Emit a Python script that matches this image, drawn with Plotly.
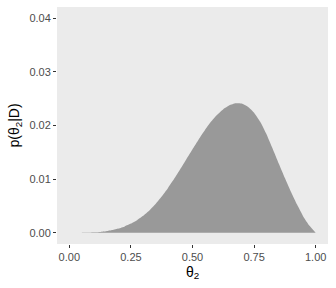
import plotly.graph_objects as go

theta = [0.000, 0.025, 0.050, 0.075, 0.100, 0.125, 0.150, 0.175, 0.200, 0.225,
         0.250, 0.275, 0.300, 0.325, 0.350, 0.375, 0.400, 0.425, 0.450, 0.475,
         0.500, 0.525, 0.550, 0.575, 0.600, 0.625, 0.650, 0.675, 0.700, 0.725,
         0.750, 0.775, 0.800, 0.825, 0.850, 0.875, 0.900, 0.925, 0.950, 0.975, 1.000]
posterior = [0.0, 0.0, 0.00001, 0.00003, 0.00008, 0.00016, 0.00029, 0.00049, 0.00078, 0.00118,
             0.00170, 0.00235, 0.00315, 0.00415, 0.00535, 0.00675, 0.00830, 0.01000, 0.01182, 0.01370,
             0.01558, 0.01741, 0.01913, 0.02068, 0.02200, 0.02305, 0.02378, 0.02416, 0.02410, 0.02350,
             0.02240, 0.02070, 0.01840, 0.01570, 0.01290, 0.01020, 0.00760, 0.00520, 0.00300, 0.00130, 0.0]

x_ticks = [0.0, 0.25, 0.5, 0.75, 1.0]
y_ticks = [0.0, 0.01, 0.02, 0.03, 0.04]

fig = go.Figure()
fig.add_trace(go.Scatter(
    x=theta, y=posterior, mode="lines", fill="tozeroy",
    line=dict(width=0, shape="spline", smoothing=0.4),
    fillcolor="#999999", hoverinfo="skip", showlegend=False,
))

axis_common = dict(
    showgrid=False, zeroline=False, showline=False,
    ticks="outside", ticklen=3, tickwidth=1, tickcolor="#333333",
    tickfont=dict(family="Liberation Sans, Arial, sans-serif", size=11, color="#4D4D4D"),
    tickformat=".2f",
)

fig.update_layout(
    width=336, height=288,
    margin=dict(l=57, r=8, t=7, b=44),
    paper_bgcolor="white", plot_bgcolor="#EBEBEB",
    font=dict(family="Liberation Sans, Arial, sans-serif", color="black"),
    xaxis=dict(**axis_common, range=[-0.05, 1.05], tickvals=x_ticks,
               title=dict(text="θ<sub>2</sub>", font=dict(size=14), standoff=4)),
    yaxis=dict(**axis_common, range=[-0.0021, 0.0421], tickvals=y_ticks,
               title=dict(text="p(θ<sub>2</sub>|D)", font=dict(size=14), standoff=6)),
)

fig.write_html("out.html")
